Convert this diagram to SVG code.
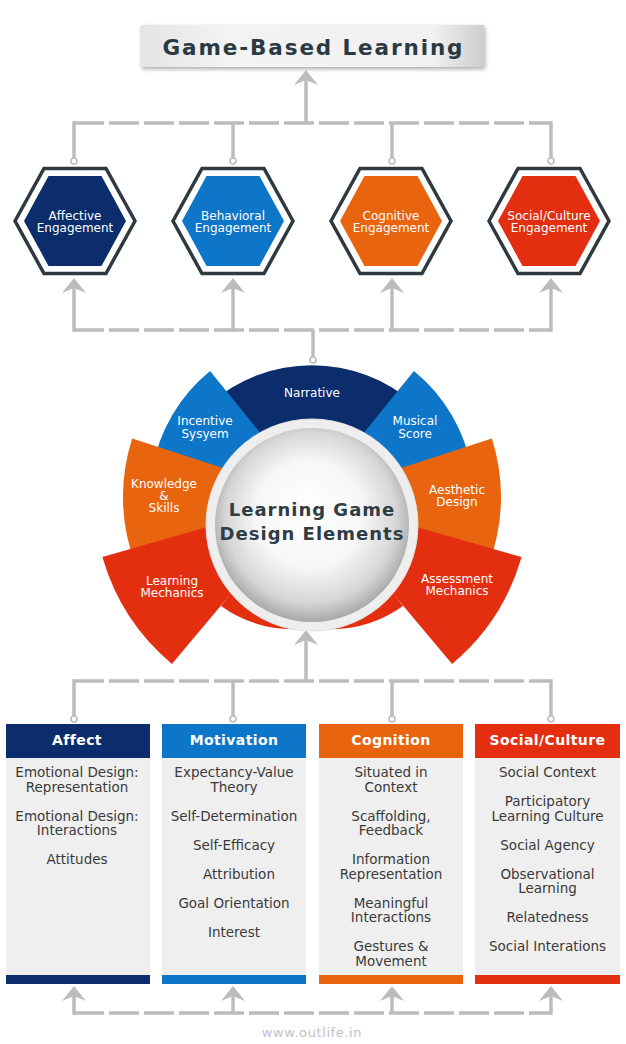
<svg xmlns="http://www.w3.org/2000/svg" width="626" height="1044" viewBox="0 0 626 1044">
<style>
.t{font-family:"DejaVu Sans","Liberation Sans",sans-serif}
.b{font-family:"DejaVu Sans","Liberation Sans",sans-serif;font-weight:bold}
.wl{fill:#ffffff;font-size:12px;text-anchor:middle}
.body{fill:#3a3a3a;font-size:13.5px;text-anchor:middle}
.hd{fill:#ffffff;font-size:14px;text-anchor:middle;letter-spacing:0.4px}
.dash{stroke:#bcbcbc;stroke-width:3.5;fill:none;stroke-dasharray:30 5}
.ln{stroke:#bcbcbc;stroke-width:3.5;fill:none}
.dot{stroke:#bcbcbc;stroke-width:1.6;fill:#ffffff}
.ah{fill:#bcbcbc}
.hexo{fill:#ffffff;stroke:#2f3a40;stroke-width:3.5}
.navy{fill:#0c2d6c}
.blue{fill:#0e76c8}
.orange{fill:#e8640e}
.red{fill:#e32e0f}
.bodyr{fill:#efefef}
</style>
<defs>
<path id="ahp" d="M0,0 L12,15 L0,10 L-12,15 Z"/>
<path id="hexO" d="M-60,0 L-31,-52.5 L31,-52.5 L60,0 L31,52.5 L-31,52.5 Z"/>
<path id="hexI" d="M-51,0 L-26.5,-45 L26.5,-45 L51,0 L26.5,45 L-26.5,45 Z"/>
<linearGradient id="tg" x1="0" y1="0" x2="1" y2="0">
<stop offset="0" stop-color="#e4e4e4"/>
<stop offset="0.25" stop-color="#f3f3f3"/>
<stop offset="0.85" stop-color="#f1f1f1"/>
<stop offset="1" stop-color="#cdcdcd"/>
</linearGradient>
<radialGradient id="sph" cx="0.5" cy="0.47" r="0.55" fx="0.47" fy="0.42">
<stop offset="0" stop-color="#ffffff"/>
<stop offset="0.5" stop-color="#f7f7f7"/>
<stop offset="0.8" stop-color="#d6d6d6"/>
<stop offset="1" stop-color="#9e9e9e"/>
</radialGradient>
<filter id="sh" x="-10%" y="-30%" width="120%" height="170%">
<feGaussianBlur in="SourceAlpha" stdDeviation="2"/>
<feOffset dx="1" dy="2" result="o"/>
<feComponentTransfer><feFuncA type="linear" slope="0.35"/></feComponentTransfer>
<feMerge><feMergeNode/><feMergeNode in="SourceGraphic"/></feMerge>
</filter>
</defs>

<rect width="626" height="1044" fill="#ffffff"/>

<g id="title">
<rect x="141" y="25" width="343" height="42" fill="url(#tg)" filter="url(#sh)"/>
<text class="b" x="312.5" y="54.5" font-size="21.5" text-anchor="middle" fill="#2b3a42" textLength="300" lengthAdjust="spacing">Game-Based Learning</text>
</g>

<g id="connectors">
<line class="ln" x1="306" y1="123" x2="306" y2="78"/>
<use href="#ahp" x="306" y="70" class="ah"/>
<line class="dash" x1="74" y1="123" x2="551" y2="123"/>
<line class="ln" x1="74" y1="121.25" x2="74" y2="158"/>
<line class="ln" x1="233" y1="123" x2="233" y2="158"/>
<line class="ln" x1="392" y1="123" x2="392" y2="158"/>
<line class="ln" x1="551" y1="121.25" x2="551" y2="158"/>
<circle class="dot" cx="74" cy="161" r="3"/>
<circle class="dot" cx="233" cy="161" r="3"/>
<circle class="dot" cx="392" cy="161" r="3"/>
<circle class="dot" cx="551" cy="161" r="3"/>
<line class="dash" x1="74" y1="330" x2="551" y2="330"/>
<line class="ln" x1="74" y1="331.75" x2="74" y2="286"/>
<line class="ln" x1="233" y1="330" x2="233" y2="286"/>
<line class="ln" x1="392" y1="330" x2="392" y2="286"/>
<line class="ln" x1="551" y1="331.75" x2="551" y2="286"/>
<use href="#ahp" x="74" y="278" class="ah"/>
<use href="#ahp" x="233" y="278" class="ah"/>
<use href="#ahp" x="392" y="278" class="ah"/>
<use href="#ahp" x="551" y="278" class="ah"/>
<line class="ln" x1="313" y1="330" x2="313" y2="357"/>
<circle class="dot" cx="313" cy="360" r="3"/>
<line class="ln" x1="306" y1="681" x2="306" y2="638"/>
<use href="#ahp" x="306" y="630" class="ah"/>
<line class="dash" x1="74" y1="681" x2="551" y2="681"/>
<line class="ln" x1="74" y1="679.25" x2="74" y2="716"/>
<line class="ln" x1="233" y1="681" x2="233" y2="716"/>
<line class="ln" x1="392" y1="681" x2="392" y2="716"/>
<line class="ln" x1="551" y1="679.25" x2="551" y2="716"/>
<circle class="dot" cx="74" cy="719" r="3"/>
<circle class="dot" cx="233" cy="719" r="3"/>
<circle class="dot" cx="392" cy="719" r="3"/>
<circle class="dot" cx="551" cy="719" r="3"/>
<line class="dash" x1="74" y1="1013" x2="551" y2="1013"/>
<line class="ln" x1="74" y1="1014.75" x2="74" y2="994"/>
<line class="ln" x1="233" y1="1013" x2="233" y2="994"/>
<line class="ln" x1="392" y1="1013" x2="392" y2="994"/>
<line class="ln" x1="551" y1="1014.75" x2="551" y2="994"/>
<use href="#ahp" x="74" y="986" class="ah"/>
<use href="#ahp" x="233" y="986" class="ah"/>
<use href="#ahp" x="392" y="986" class="ah"/>
<use href="#ahp" x="551" y="986" class="ah"/>
</g>

<g id="affective-engagement" transform="translate(75,221)">
<use href="#hexO" class="hexo"/>
<use href="#hexI" class="navy"/>
<text class="t wl" x="0" y="-1">Affective</text>
<text class="t wl" x="0" y="11">Engagement</text>
</g>
<g id="behavioral-engagement" transform="translate(233,221)">
<use href="#hexO" class="hexo"/>
<use href="#hexI" class="blue"/>
<text class="t wl" x="0" y="-1">Behavioral</text>
<text class="t wl" x="0" y="11">Engagement</text>
</g>
<g id="cognitive-engagement" transform="translate(391,221)">
<use href="#hexO" class="hexo"/>
<use href="#hexI" class="orange"/>
<text class="t wl" x="0" y="-1">Cognitive</text>
<text class="t wl" x="0" y="11">Engagement</text>
</g>
<g id="social-culture-engagement" transform="translate(549,221)">
<use href="#hexO" class="hexo"/>
<use href="#hexI" class="red"/>
<text class="t wl" x="0" y="-1">Social/Culture</text>
<text class="t wl" x="0" y="11">Engagement</text>
</g>

<g id="narrative">
<path class="navy" d="M312,527 L209.4,404 A155 155 0 0 1 414.6,404 Z"/>
<text class="t wl" x="312" y="397">Narrative</text>
</g>
<g id="incentive-system">
<path class="blue" d="M312,497 L152.5,468.9 A162 162 0 0 1 210.1,371.1 Z"/>
<text class="t wl" x="205" y="425">Incentive</text>
<text class="t wl" x="205" y="437.5">Sysyem</text>
</g>
<g id="musical-score">
<path class="blue" d="M312,497 L413.9,371.1 A162 162 0 0 1 471.5,468.9 Z"/>
<text class="t wl" x="415" y="425">Musical</text>
<text class="t wl" x="415" y="437.5">Score</text>
</g>
<g id="knowledge-skills">
<path class="orange" d="M312,497 L134.4,561.6 A189 189 0 0 1 132.2,438.6 Z"/>
<text class="t wl" x="164" y="488">Knowledge</text>
<text class="t wl" x="164" y="500">&amp;</text>
<text class="t wl" x="164" y="512">Skills</text>
</g>
<g id="aesthetic-design">
<path class="orange" d="M312,497 L491.8,438.6 A189 189 0 0 1 489.6,561.6 Z"/>
<text class="t wl" x="457" y="494">Aesthetic</text>
<text class="t wl" x="457" y="506">Design</text>
</g>
<g id="learning-mechanics">
<path class="red" d="M312,497 L171.9,664 A218 218 0 0 1 102.4,557.1 Z"/>
<path class="red" d="M221,606 A125 125 0 0 0 299,629 L312,560 L231,593 Z"/>
<text class="t wl" x="172" y="585">Learning</text>
<text class="t wl" x="172" y="597">Mechanics</text>
</g>
<g id="assessment-mechanics">
<path class="red" d="M312,497 L521.6,557.1 A218 218 0 0 1 452.1,664 Z"/>
<path class="red" d="M403,606 A125 125 0 0 1 325,629 L312,560 L393,593 Z"/>
<text class="t wl" x="457" y="583">Assessment</text>
<text class="t wl" x="457" y="595">Mechanics</text>
</g>

<g id="learning-game-design-elements">
<circle cx="312" cy="525" r="106" fill="#eeeeee" stroke="#e2e2e2" stroke-width="1"/>
<circle cx="312" cy="525" r="97" fill="url(#sph)"/>
<text class="b" x="312" y="516" font-size="18" text-anchor="middle" fill="#2e3c44" letter-spacing="1">Learning Game</text>
<text class="b" x="312" y="540" font-size="18" text-anchor="middle" fill="#2e3c44" letter-spacing="1">Design Elements</text>
</g>

<g id="affect">
<rect class="bodyr" x="6" y="758" width="144" height="217"/>
<rect class="navy" x="6" y="724" width="144" height="34"/>
<rect class="navy" x="6" y="975" width="144" height="9"/>
<text class="b hd" x="77" y="745">Affect</text>
<text class="t body" x="77" y="777">Emotional Design:</text>
<text class="t body" x="77" y="792">Representation</text>
<text class="t body" x="77" y="821">Emotional Design:</text>
<text class="t body" x="77" y="835">Interactions</text>
<text class="t body" x="77" y="864">Attitudes</text>
</g>
<g id="motivation">
<rect class="bodyr" x="162" y="758" width="144" height="217"/>
<rect class="blue" x="162" y="724" width="144" height="34"/>
<rect class="blue" x="162" y="975" width="144" height="9"/>
<text class="b hd" x="234" y="745">Motivation</text>
<text class="t body" x="234" y="777">Expectancy-Value</text>
<text class="t body" x="234" y="792">Theory</text>
<text class="t body" x="234" y="821">Self-Determination</text>
<text class="t body" x="234" y="850">Self-Efficacy</text>
<text class="t body" x="239" y="879">Attribution</text>
<text class="t body" x="234" y="908">Goal Orientation</text>
<text class="t body" x="234" y="937">Interest</text>
</g>
<g id="cognition">
<rect class="bodyr" x="319" y="758" width="144" height="217"/>
<rect class="orange" x="319" y="724" width="144" height="34"/>
<rect class="orange" x="319" y="975" width="144" height="9"/>
<text class="b hd" x="391" y="745">Cognition</text>
<text class="t body" x="391" y="777">Situated in</text>
<text class="t body" x="391" y="792">Context</text>
<text class="t body" x="391" y="821">Scaffolding,</text>
<text class="t body" x="391" y="835">Feedback</text>
<text class="t body" x="391" y="864">Information</text>
<text class="t body" x="391" y="879">Representation</text>
<text class="t body" x="391" y="908">Meaningful</text>
<text class="t body" x="391" y="922">Interactions</text>
<text class="t body" x="391" y="951">Gestures &amp;</text>
<text class="t body" x="391" y="966">Movement</text>
</g>
<g id="social-culture">
<rect class="bodyr" x="475" y="758" width="145" height="217"/>
<rect class="red" x="475" y="724" width="145" height="34"/>
<rect class="red" x="475" y="975" width="145" height="9"/>
<text class="b hd" x="547.5" y="745">Social/Culture</text>
<text class="t body" x="547.5" y="777">Social Context</text>
<text class="t body" x="547.5" y="806">Participatory</text>
<text class="t body" x="547.5" y="821">Learning Culture</text>
<text class="t body" x="547.5" y="850">Social Agency</text>
<text class="t body" x="547.5" y="879">Observational</text>
<text class="t body" x="547.5" y="893">Learning</text>
<text class="t body" x="547.5" y="922">Relatedness</text>
<text class="t body" x="547.5" y="951">Social Interations</text>
</g>

<text class="t" x="312" y="1037" font-size="13" fill="#c2c2c2" text-anchor="middle" letter-spacing="0.6">www.outlife.in</text>
</svg>
